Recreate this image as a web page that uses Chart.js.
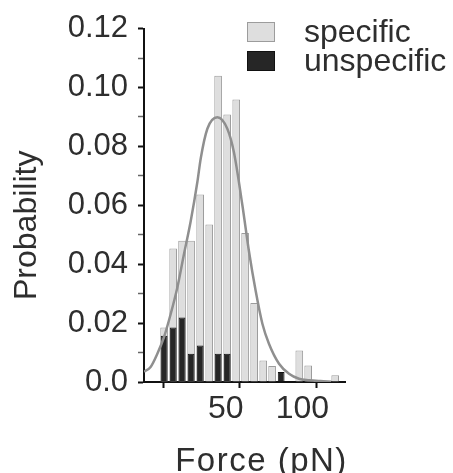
<!DOCTYPE html>
<html>
<head>
<meta charset="utf-8">
<script src="https://cdn.jsdelivr.net/npm/chart.js@4.4.1/dist/chart.umd.min.js"></script>
<style>
  html, body { margin: 0; padding: 0; background: #ffffff; }
  #wrap { width: 453px; height: 473px; }
</style>
</head>
<body>
<div id="wrap"><canvas id="chart" width="453" height="473"></canvas></div>
<script>
// Histogram bin centres (pN)
const binCenters = [13.1, 19.0, 24.8, 30.7, 36.6, 42.5, 48.3, 54.2, 60.1, 65.9,
                    71.8, 77.7, 83.5, 89.4, 95.3, 101.2, 107.0, 112.9, 118.8, 124.6];

// Rupture-force probabilities per bin
const specificProb   = [0.0185, 0.0453, 0.048, 0.048, 0.0637, 0.0535, 0.104, 0.0908, 0.0959, 0.0506,
                        0.0268, 0.0073, 0.0054, null, null, 0.0107, 0.0056, null, null, 0.0023];
const unspecificProb = [0.0157, 0.0185, 0.0219, 0.0096, 0.0124, null, 0.0096, 0.0096, null, null,
                        null, null, null, 0.0034, null, null, null, null, null, null];

// Fitted distribution of the specific forces
const fitForce = [0, 4.3, 8.7, 13.0, 17.4, 21.7, 26.0, 30.4, 34.8, 37.0, 41.3, 47.8, 54.3,
                  58.6, 64.1, 68.4, 72.8, 77.2, 81.5, 88.0, 94.5, 101.0, 107.6, 115.0, 122.0];
const fitProb  = [0.0035, 0.0051, 0.0096, 0.0152, 0.0231, 0.032, 0.0433, 0.0545, 0.068, 0.076, 0.086, 0.0899, 0.086,
                  0.078, 0.0601, 0.0444, 0.0309, 0.0197, 0.0129, 0.0062, 0.0028, 0.0011, 0.0006, 0.0003, 0.0001];

// Axis labels
const yTickLabels = ['0.0', '0.02', '0.04', '0.06', '0.08', '0.10', '0.12'];
const xTickLabels = [50, 100];
const xTitle = 'Force (pN)';
const yTitle = 'Probability';

const FONT = "'Liberation Sans', Arial, Helvetica, sans-serif";
const TEXT = '#2e2e2e';
const AXIS = '#111111';

// Axis titles and the two-entry legend at the upper right of the plot
const decorations = {
  id: 'decorations',
  afterDraw(chart) {
    const ctx = chart.ctx;
    const area = chart.chartArea;
    ctx.save();
    ctx.fillStyle = TEXT;
    ctx.font = '32px ' + FONT;

    // y title, rotated
    ctx.save();
    ctx.translate(27, (area.top + area.bottom) / 2 + 20);
    ctx.rotate(-Math.PI / 2);
    ctx.textAlign = 'center';
    ctx.textBaseline = 'middle';
    ctx.fillText(yTitle, 0, 0);
    ctx.restore();

    // x title
    ctx.save();
    ctx.font = '33px ' + FONT;
    if ('letterSpacing' in ctx) ctx.letterSpacing = '1.5px';
    ctx.textAlign = 'center';
    ctx.textBaseline = 'alphabetic';
    ctx.fillText(xTitle, (area.left + area.right) / 2 + 17, 471);
    ctx.restore();

    // legend
    const entries = chart.data.datasets.filter(d => d.type !== 'line');
    entries.sort((a, b) => b.order - a.order);
    ctx.textBaseline = 'alphabetic';
    ctx.textAlign = 'left';
    entries.forEach((d, i) => {
      const base = 42 + i * 29;
      ctx.fillStyle = d.backgroundColor;
      ctx.fillRect(247, base - 20, 28, 20);
      ctx.strokeStyle = d.borderColor;
      ctx.lineWidth = 1;
      ctx.strokeRect(247.5, base - 19.5, 27, 19);
      ctx.fillStyle = TEXT;
      ctx.fillText(d.label, 304, base);
    });
    ctx.restore();
  }
};

new Chart(document.getElementById('chart'), {
  type: 'bar',
  data: {
    labels: binCenters,
    datasets: [
      {
        type: 'line',
        label: 'fit',
        data: fitForce.map((f, i) => ({ x: f, y: fitProb[i] })),
        borderColor: '#8f8f8f',
        borderWidth: 2.5,
        pointRadius: 0,
        cubicInterpolationMode: 'monotone',
        fill: false,
        order: 0
      },
      {
        label: 'unspecific',
        data: unspecificProb,
        backgroundColor: '#262626',
        borderColor: '#111111',
        borderWidth: 1,
        barPercentage: 0.76,
        categoryPercentage: 1,
        grouped: false,
        order: 1
      },
      {
        label: 'specific',
        data: specificProb,
        backgroundColor: '#dedede',
        borderColor: '#9c9c9c',
        borderWidth: 1,
        barPercentage: 0.86,
        categoryPercentage: 1,
        grouped: false,
        order: 2
      }
    ]
  },
  options: {
    responsive: false,
    devicePixelRatio: 1,
    animation: false,
    layout: { padding: { top: 26, right: 108, left: 0, bottom: 0 } },
    plugins: { legend: { display: false }, tooltip: { enabled: false } },
    scales: {
      x: {
        type: 'linear',
        min: 0,
        max: 131,
        offset: false,
        grid: {
          drawOnChartArea: false,
          drawTicks: true,
          tickLength: 6,
          tickWidth: 2,
          tickColor: c => (c.tick && c.tick.value % 50 === 0) ? 'rgba(0,0,0,0)' : AXIS
        },
        border: { color: AXIS, width: 2 },
        ticks: {
          stepSize: 25,
          includeBounds: false,
          autoSkip: false,
          maxRotation: 0,
          padding: 2,
          labelOffset: 5,
          color: TEXT,
          font: { family: FONT, size: 32 },
          callback: v => xTickLabels.includes(v) ? String(v) : ''
        },
        afterFit: s => { s.height = 91; }
      },
      y: {
        type: 'linear',
        min: 0,
        max: 0.12,
        grid: {
          drawOnChartArea: false,
          drawTicks: true,
          tickLength: 6,
          tickWidth: c => (c.tick && Math.round(c.tick.value * 100) % 2 === 0) ? 2 : 1.5,
          tickColor: c => (c.tick && Math.round(c.tick.value * 100) % 2 === 0) ? AXIS : '#666666'
        },
        border: { color: AXIS, width: 2 },
        ticks: {
          stepSize: 0.01,
          autoSkip: false,
          padding: 10,
          color: TEXT,
          font: { family: FONT, size: 31 },
          callback: v => {
            const k = Math.round(v * 100);
            return k % 2 === 0 ? yTickLabels[k / 2] : '';
          }
        },
        afterFit: s => { s.width = 144; }
      }
    }
  },
  plugins: [decorations]
});
</script>
</body>
</html>
